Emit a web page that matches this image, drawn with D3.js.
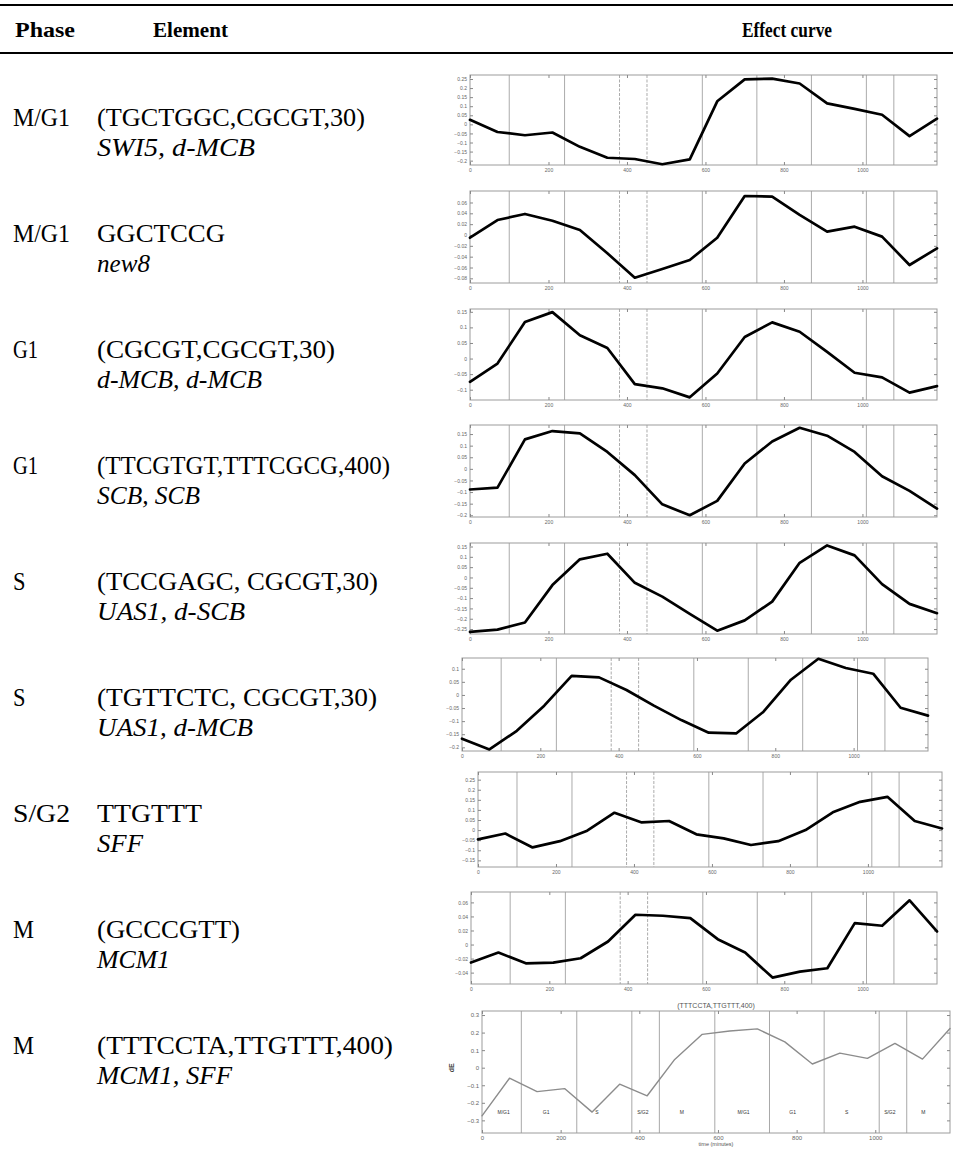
<!DOCTYPE html>
<html><head><meta charset="utf-8">
<script src="https://cdn.jsdelivr.net/npm/d3@7"></script>
<style>body{margin:0;background:#fff}svg{display:block}</style>
</head><body>
<script>
// ---------------- data ----------------
const timePoints = [0,70,140,210,280,350,420,490,560,630,700,770,840,910,980,1050,1120,1190];
const xTickValues = [0,200,400,600,800,1000];
const phaseBoundaries = [100,241,381,451,592,731,870,1010,1080];
const dashedBoundaries = [381,451];

const headers = ["Phase","Element","Effect curve"];
const phaseNames = ["M/G1","M/G1","G1","G1","S","S","S/G2","M","M"];
const elementMotifs = ["(TGCTGGC,CGCGT,30)","GGCTCCG","(CGCGT,CGCGT,30)","(TTCGTGT,TTTCGCG,400)",
  "(TCCGAGC, CGCGT,30)","(TGTTCTC, CGCGT,30)","TTGTTT","(GCCCGTT)","(TTTCCTA,TTGTTT,400)"];
const elementFactors = ["SWI5, d-MCB","new8","d-MCB, d-MCB","SCB, SCB","UAS1, d-SCB","UAS1, d-MCB","SFF","MCM1","MCM1, SFF"];

const effectSWI5dMCB   = [0.025,-0.042,-0.06,-0.045,-0.124,-0.184,-0.191,-0.22,-0.193,0.127,0.248,0.252,0.225,0.116,0.085,0.053,-0.065,0.031];
const effectNew8       = [-0.005,0.0276,0.0388,0.0264,0.0092,-0.0338,-0.0788,-0.0628,-0.0462,-0.005,0.072,0.0708,0.037,0.0062,0.0154,-0.003,-0.0554,-0.0246];
const effectDMCBdMCB   = [-0.0745,-0.016,0.117,0.149,0.0745,0.034,-0.082,-0.0955,-0.1245,-0.048,0.069,0.116,0.086,0.0215,-0.0455,-0.0605,-0.1095,-0.0885];
const effectSCBSCB     = [-0.089,-0.081,0.127,0.163,0.153,0.073,-0.027,-0.153,-0.2,-0.138,0.023,0.118,0.177,0.143,0.073,-0.032,-0.095,-0.171];
const effectUAS1dSCB   = [-0.264,-0.253,-0.218,-0.037,0.088,0.115,-0.026,-0.093,-0.176,-0.258,-0.208,-0.117,0.071,0.155,0.107,-0.032,-0.128,-0.173];
const effectUAS1dMCB   = [-0.167,-0.208,-0.137,-0.041,0.073,0.067,0.019,-0.041,-0.096,-0.144,-0.147,-0.064,0.058,0.138,0.103,0.081,-0.049,-0.079];
const effectSFF        = [-0.046,-0.017,-0.086,-0.055,-0.003,0.086,0.038,0.045,-0.021,-0.041,-0.074,-0.055,0,0.088,0.14,0.165,0.045,0.008];
const effectMCM1       = [-0.0257,-0.0114,-0.0267,-0.0257,-0.0195,0.0043,0.0424,0.041,0.0376,0.0076,-0.0114,-0.0471,-0.0386,-0.0338,0.0305,0.0267,0.0629,0.0186];
const effectMCM1SFF    = [-0.274,-0.06,-0.136,-0.119,-0.253,-0.094,-0.16,0.047,0.19,0.209,0.221,0.147,0.021,0.083,0.053,0.138,0.049,0.223];

const yTicks1 = [0.25,0.2,0.15,0.1,0.05,0,-0.05,-0.1,-0.15,-0.2];
const yTicks2 = [0.06,0.04,0.02,0,-0.02,-0.04,-0.06,-0.08];
const yTicks3 = [0.15,0.1,0.05,0,-0.05,-0.1];
const yTicks4 = [0.15,0.1,0.05,0,-0.05,-0.1,-0.15,-0.2];
const yTicks5 = [0.15,0.1,0.05,0,-0.05,-0.1,-0.15,-0.2,-0.25];
const yTicks6 = [0.1,0.05,0,-0.05,-0.1,-0.15,-0.2];
const yTicks7 = [0.25,0.2,0.15,0.1,0.05,0,-0.05,-0.1,-0.15];
const yTicks8 = [0.06,0.04,0.02,0,-0.02,-0.04];
const yTicks9 = [0.3,0.2,0.1,0,-0.1,-0.2,-0.3];

const lastTitle = "(TTTCCTA,TTGTTT,400)";
const lastYLabel = "dE";
const lastXLabel = "time (minutes)";
const phaseLabelNames = ["M/G1","G1","S","S/G2","M","M/G1","G1","S","S/G2","M"];
const phaseLabelTimes = [55,163,292,409,508,665,790,927,1037,1122];

const series = [effectSWI5dMCB,effectNew8,effectDMCBdMCB,effectSCBSCB,effectUAS1dSCB,effectUAS1dMCB,effectSFF,effectMCM1,effectMCM1SFF];
const tickSets = [yTicks1,yTicks2,yTicks3,yTicks4,yTicks5,yTicks6,yTicks7,yTicks8,yTicks9];

// ---------------- layout ----------------
const W = 953, H = 1154;
const panels = [
  {top:75,  bottom:165, left:470, right:937, lo:-0.224, hi:0.272},
  {top:191, bottom:283, left:470, right:937, lo:-0.0886,hi:0.0812},
  {top:309, bottom:400, left:470, right:937, lo:-0.133, hi:0.159},
  {top:425, bottom:517, left:470, right:937, lo:-0.2075,hi:0.189},
  {top:543, bottom:634, left:470, right:937, lo:-0.274, hi:0.167},
  {top:658, bottom:751, left:462, right:928, lo:-0.214, hi:0.141},
  {top:772, bottom:867, left:478, right:942, lo:-0.183, hi:0.288},
  {top:892, bottom:984, left:471, right:937, lo:-0.0562,hi:0.0748},
  {top:1011,bottom:1133,left:482, right:950, lo:-0.372, hi:0.323}
];
const headerX = [15,153,742], headerW = [60,75,90];
const phaseW = [57,57,25,25,12.5,12.5,57,21,21];
const motifW = [268,128,238,293,281,280,105,143,296];
const factorW = [158,53,165,103,148,156,46,73,135];
const rowBase0 = 126, rowPitch = 116, italicGap = 29.5;

const svg = d3.select("body").append("svg").attr("width",W).attr("height",H);
svg.append("rect").attr("width",W).attr("height",H).attr("fill","#fff");

// rules
svg.append("line").attr("x1",0).attr("x2",W).attr("y1",5).attr("y2",5).attr("stroke","#000").attr("stroke-width",2.2);
svg.append("line").attr("x1",0).attr("x2",W).attr("y1",53).attr("y2",53).attr("stroke","#000").attr("stroke-width",1.8);

svg.selectAll("text.hdr").data(headers).join("text").attr("class","hdr")
  .attr("x",(d,i)=>headerX[i]).attr("y",37)
  .attr("textLength",(d,i)=>headerW[i]).attr("lengthAdjust","spacingAndGlyphs")
  .style("font-family","'Liberation Serif',serif").style("font-weight","bold").style("font-size","21px")
  .text(d=>d);

const serif = "'Liberation Serif','DejaVu Serif',serif";
phaseNames.forEach((p,i)=>{
  const yb = rowBase0 + rowPitch*i;
  svg.append("text").attr("x",13).attr("y",yb).attr("textLength",phaseW[i]).attr("lengthAdjust","spacingAndGlyphs")
    .style("font-family",serif).style("font-size","26px").text(p);
  svg.append("text").attr("x",97).attr("y",yb).attr("textLength",motifW[i]).attr("lengthAdjust","spacingAndGlyphs")
    .style("font-family",serif).style("font-size","26px").text(elementMotifs[i]);
  svg.append("text").attr("x",97).attr("y",yb+italicGap).attr("textLength",factorW[i]).attr("lengthAdjust","spacingAndGlyphs")
    .style("font-family",serif).style("font-style","italic").style("font-size","25px").text(elementFactors[i]);
});

const fmt = d => d === 0 ? "0" : d3.format("~g")(d);

panels.forEach((p,k)=>{
  const last = k === 8;
  const g = svg.append("g");
  const x = d3.scaleLinear().domain([0,1190]).range([p.left,p.right]);
  const y = d3.scaleLinear().domain([p.lo,p.hi]).range([p.bottom,p.top]);
  const fs = last ? 6 : 5;

  // phase boundary lines
  g.selectAll("line.ph").data(phaseBoundaries).join("line")
    .attr("x1",d=>x(d)).attr("x2",d=>x(d)).attr("y1",p.top).attr("y2",p.bottom)
    .attr("stroke", last ? "#a8a8a8" : "#ababab").attr("stroke-width",1)
    .attr("stroke-dasharray",d=> (!last && dashedBoundaries.includes(d)) ? "3,1.5" : null);

  // box
  g.append("rect").attr("x",p.left).attr("y",p.top).attr("width",p.right-p.left).attr("height",p.bottom-p.top)
    .attr("fill","none").attr("stroke","#9c9c9c").attr("stroke-width",1);

  const styleAxis = sel => {
    sel.select(".domain").remove();
    sel.selectAll(".tick line").attr("stroke","#888");
    sel.selectAll(".tick text").attr("fill","#666").style("font-family","'Liberation Sans',Arial,sans-serif").style("font-size",fs+"px");
  };
  g.append("g").attr("transform",`translate(${p.left},0)`)
    .call(d3.axisLeft(y).tickValues(tickSets[k]).tickSizeInner(-3).tickSizeOuter(0).tickPadding(3).tickFormat(fmt)).call(styleAxis);
  g.append("g").attr("transform",`translate(${p.right},0)`)
    .call(d3.axisRight(y).tickValues(tickSets[k]).tickSizeInner(-3).tickSizeOuter(0).tickFormat("")).call(styleAxis);
  g.append("g").attr("transform",`translate(0,${p.bottom})`)
    .call(d3.axisBottom(x).tickValues(xTickValues).tickSizeInner(-3).tickSizeOuter(0).tickPadding(3).tickFormat(d3.format("d"))).call(styleAxis);
  g.append("g").attr("transform",`translate(0,${p.top})`)
    .call(d3.axisTop(x).tickValues(xTickValues).tickSizeInner(-3).tickSizeOuter(0).tickFormat("")).call(styleAxis);

  const line = d3.line().x((d,i)=>x(timePoints[i])).y(d=>y(d));
  g.append("path").datum(series[k]).attr("d",line).attr("fill","none")
    .attr("stroke", last ? "#8c8c8c" : "#000").attr("stroke-width", last ? 1.4 : 2.7)
    .attr("stroke-linejoin","round").attr("stroke-linecap","round");

  if (last) {
    g.append("text").attr("x",x(595)).attr("y",p.top-3).attr("text-anchor","middle")
      .style("font-family","'Liberation Sans',Arial,sans-serif").style("font-size","7px").attr("fill","#555").text(lastTitle);
    g.append("text").attr("x",x(595)).attr("y",p.bottom+13).attr("text-anchor","middle")
      .style("font-family","'Liberation Sans',Arial,sans-serif").style("font-size","5.5px").attr("fill","#555").text(lastXLabel);
    g.append("text").attr("transform",`translate(${p.left-28},${y(0)}) rotate(-90)`).attr("text-anchor","middle")
      .style("font-family","'Liberation Sans',Arial,sans-serif").style("font-size","7px").style("font-weight","bold").attr("fill","#444").text(lastYLabel);
    g.selectAll("text.plab").data(phaseLabelNames).join("text").attr("class","plab")
      .attr("x",(d,i)=>x(phaseLabelTimes[i])).attr("y",y(-0.255)+2).attr("text-anchor","middle")
      .style("font-family","'Liberation Sans',Arial,sans-serif").style("font-size","5px").attr("fill","#333").text(d=>d);
  }
});
</script>
</body></html>
